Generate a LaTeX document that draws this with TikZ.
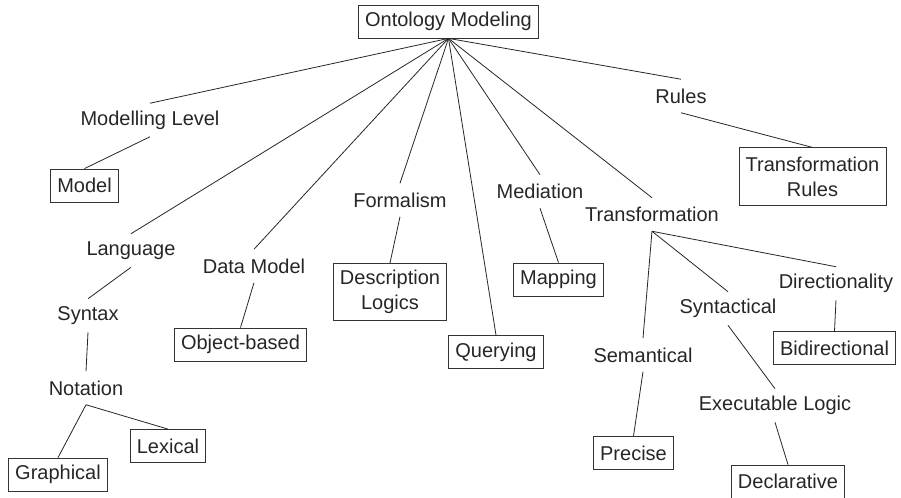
\documentclass[tikz,border=0pt]{standalone}
\usepackage{fontspec}
\setmainfont{Liberation Sans}
\usepackage{tikz}
\usetikzlibrary{positioning}

\begin{document}
\begin{tikzpicture}[
        x=0.75pt,y=-0.75pt,
        every node/.style={font=\fontsize{15}{18.75}\selectfont,text=black!85,align=center,minimum height=24.75pt,inner xsep=5pt,inner ysep=2pt},
        lbl/.style={},
        leaf/.style={draw=black!80,line width=0.6pt},
        leaftwo/.style={leaf,minimum height=43pt}
      ]
      \useasboundingbox (0,0) rectangle (901,498);
      % root
      \node[leaf] (root) at (448.5,21.5) {Ontology Modeling};

      % left branches
      \node[lbl] (modlev) at (150,120) {Modelling Level};
      \node[leaf] (model) at (84.5,185.5) {Model};
      \node[lbl] (lang) at (131,250.5) {Language};
      \node[lbl] (syntax) at (88,315.5) {Syntax};
      \node[lbl] (notation) at (86,388) {Notation};
      \node[leaf] (graphical) at (58,474.5) {Graphical};
      \node[leaf] (lexical) at (168,446) {Lexical};
      \node[lbl] (datamodel) at (254,266) {Data Model};
      \node[leaf] (objbased) at (240.5,344.5) {Object-based};
      \node[lbl] (formalism) at (400,200) {Formalism};
      \node[leaftwo] (desclogic) at (390,292) {Description\\Logics};
      \node[leaf] (querying) at (496,352) {Querying};

      % right branches
      \node[lbl] (mediation) at (540,191.5) {Mediation};
      \node[leaf] (mapping) at (558.5,279.5) {Mapping};
      \node[lbl] (transf) at (652,214.5) {Transformation};
      \node[lbl] (semantical) at (643,355) {Semantical};
      \node[leaf] (precise) at (633.5,453) {Precise};
      \node[lbl] (syntactical) at (728,308.5) {Syntactical};
      \node[lbl] (execlogic) at (775,405.5) {Executable Logic};
      \node[leaf] (declarative) at (788,481.5) {Declarative};
      \node[lbl] (direction) at (836,283.5) {Directionality};
      \node[leaf] (bidir) at (834.5,348) {Bidirectional};
      \node[lbl] (rules) at (681,96) {Rules};
      \node[leaftwo] (transrules) at (812.5,176.5) {Transformation\\Rules};

      % edges
      \foreach \from/\to in {root/modlev,modlev/model,root/lang,lang/syntax,syntax/notation,
          notation/graphical,notation/lexical,root/datamodel,datamodel/objbased,
          root/formalism,formalism/desclogic,root/querying,root/mediation,mediation/mapping,
          root/transf,transf/semantical,semantical/precise,transf/syntactical,
          syntactical/execlogic,execlogic/declarative,transf/direction,direction/bidir,
          root/rules,rules/transrules}
        \draw[black!85,line width=0.6pt] (\from.south) -- (\to.north);
    \end{tikzpicture}
\end{document}
